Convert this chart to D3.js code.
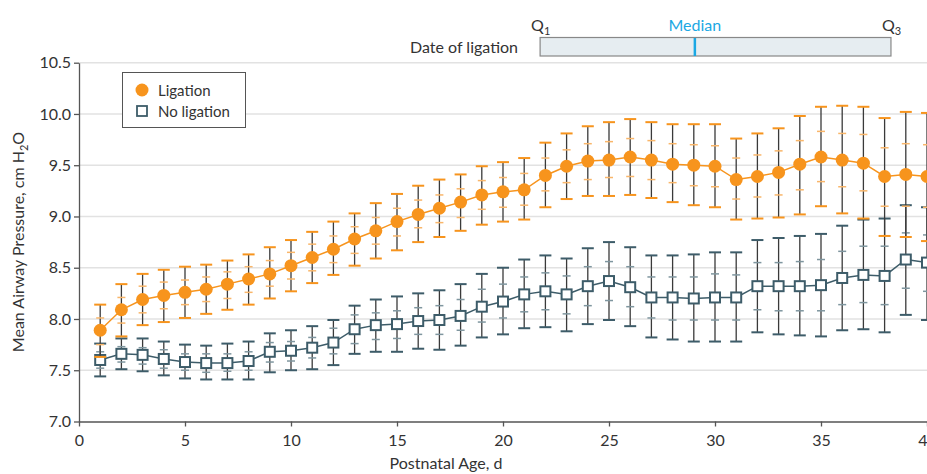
<!DOCTYPE html>
<html>
<head>
<meta charset="utf-8">
<script src="https://cdn.jsdelivr.net/npm/d3@7"></script>
<style>
  body { margin: 0; background: #fff; }
  svg text { font-family: Lato, "Noto Sans", sans-serif; fill: #333; }
</style>
</head>
<body>
<div id="vis"></div>
<script>
// postnatal days
const days = [1,2,3,4,5,6,7,8,9,10,11,12,13,14,15,16,17,18,19,20,
  21,22,23,24,25,26,27,28,29,30,31,32,33,34,35,36,37,38,39,40];

// Ligation: mean, outer bar (hi/lo), inner tick (inHi/inLo)
const ligMean = [7.89,8.09,8.19,8.23,8.26,8.29,8.34,8.39,8.44,8.52,8.60,8.68,8.78,8.86,8.95,9.02,9.08,9.14,9.21,9.24,
  9.26,9.40,9.49,9.54,9.55,9.58,9.55,9.51,9.50,9.49,9.36,9.39,9.43,9.51,9.58,9.55,9.52,9.39,9.41,9.39];
const ligHi = [8.14,8.34,8.44,8.48,8.51,8.53,8.57,8.63,8.70,8.77,8.85,8.95,9.03,9.13,9.22,9.30,9.36,9.41,9.49,9.53,
  9.57,9.72,9.81,9.88,9.92,9.95,9.92,9.90,9.90,9.90,9.76,9.81,9.86,9.98,10.07,10.08,10.07,9.96,10.02,10.01];
const ligLo = [7.63,7.83,7.94,7.97,8.01,8.05,8.09,8.14,8.20,8.27,8.35,8.43,8.52,8.59,8.67,8.75,8.80,8.86,8.92,8.95,
  8.97,9.09,9.17,9.20,9.20,9.21,9.18,9.14,9.11,9.09,8.97,8.98,8.99,9.02,9.10,9.03,8.98,8.81,8.80,8.76];
const ligInHi = [8.01,8.21,8.32,8.36,8.38,8.41,8.46,8.51,8.57,8.65,8.73,8.81,8.90,8.99,9.08,9.16,9.21,9.27,9.35,9.38,
  9.42,9.57,9.65,9.71,9.73,9.76,9.74,9.71,9.70,9.69,9.57,9.60,9.64,9.74,9.83,9.81,9.80,9.67,9.71,9.70];
const ligInLo = [7.75,7.96,8.06,8.10,8.14,8.17,8.20,8.26,8.32,8.39,8.47,8.55,8.64,8.73,8.81,8.89,8.94,8.99,9.07,9.09,
  9.11,9.25,9.33,9.36,9.38,9.39,9.36,9.33,9.30,9.29,9.17,9.19,9.21,9.26,9.34,9.29,9.25,9.10,9.10,9.09];

// No ligation
const nlMean = [7.60,7.66,7.65,7.61,7.58,7.57,7.57,7.59,7.68,7.69,7.72,7.77,7.90,7.94,7.95,7.98,7.99,8.03,8.12,8.17,
  8.24,8.27,8.24,8.32,8.37,8.31,8.21,8.21,8.20,8.21,8.21,8.32,8.32,8.32,8.33,8.40,8.43,8.42,8.58,8.55];
const nlHi = [7.76,7.81,7.81,7.78,7.75,7.74,7.76,7.78,7.86,7.89,7.93,7.99,8.13,8.19,8.22,8.25,8.28,8.34,8.44,8.50,
  8.58,8.62,8.59,8.69,8.75,8.70,8.62,8.62,8.63,8.65,8.65,8.77,8.79,8.81,8.83,8.91,8.97,8.98,9.11,9.09];
const nlLo = [7.44,7.51,7.49,7.45,7.42,7.41,7.41,7.41,7.48,7.50,7.51,7.55,7.66,7.68,7.68,7.71,7.70,7.74,7.82,7.85,
  7.91,7.92,7.88,7.95,7.99,7.93,7.82,7.80,7.78,7.78,7.78,7.87,7.85,7.84,7.83,7.89,7.90,7.87,8.04,7.99];
const nlInHi = [7.68,7.73,7.72,7.70,7.66,7.66,7.66,7.68,7.77,7.78,7.82,7.91,8.04,8.06,8.08,8.11,8.13,8.19,8.29,8.34,
  8.41,8.45,8.42,8.51,8.56,8.51,8.41,8.41,8.41,8.44,8.43,8.55,8.55,8.56,8.58,8.66,8.71,8.71,8.84,8.82];
const nlInLo = [7.52,7.58,7.56,7.52,7.50,7.48,7.49,7.50,7.58,7.59,7.62,7.66,7.76,7.80,7.81,7.85,7.85,7.89,7.97,8.01,
  8.07,8.09,8.05,8.13,8.18,8.12,8.01,7.99,7.99,7.99,7.99,8.09,8.08,8.08,8.08,8.14,8.16,8.14,8.30,8.27];

// date of ligation quartiles (days)
const ligationDate = { q1: 21.75, median: 29.05, q3: 38.3 };

const xTicks = [0, 5, 10, 15, 20, 25, 30, 35, 40];
const yTicks = [7.0, 7.5, 8.0, 8.5, 9.0, 9.5, 10.0, 10.5];

const orange = '#f7941d';
const orangeLight = '#f9b66a';
const teal = '#3d5c69';
const tealLight = '#7f969f';
const blue = '#1ba8e4';

const svg = d3.select('#vis')
.append('svg')
.attr('width', 927)
.attr('height', 474);

const x = d3.scaleLinear().domain([0, 40]).range([79, 927]);
const y = d3.scaleLinear().domain([7, 10.5]).range([421.5, 62.7]);

// grid lines
svg.selectAll('.grid')
.data(yTicks.slice(1))
.enter()
.append('line')
.attr('class', 'grid')
.attr('x1', x(0))
.attr('x2', 927)
.attr('y1', d => y(d))
.attr('y2', d => y(d))
.attr('stroke', '#e2e2e2')
.attr('stroke-width', 1.5);

// axes
const yAxis = svg.append('g')
.attr('transform', `translate(${x(0)},0)`)
.call(d3.axisLeft(y).tickValues(yTicks).tickSize(5).tickSizeOuter(0).tickFormat(d3.format('.1f')));

const xAxis = svg.append('g')
.attr('transform', `translate(0,${y(7)})`)
.call(d3.axisBottom(x).tickValues(xTicks).tickSize(5).tickSizeOuter(0));

[xAxis, yAxis].forEach(a => {
  a.selectAll('path, line').attr('stroke', '#555').attr('stroke-width', 1.3);
  a.selectAll('text').attr('font-size', 16).attr('fill', '#333');
});
xAxis.selectAll('text').attr('dy', '1.0em');

function drawSeries(mean, hi, lo, inHi, inLo, color, inner, isCircle) {
  const g = svg.append('g');
  const rows = days.map((d, i) => ({ day: d, mean: mean[i], hi: hi[i], lo: lo[i], inHi: inHi[i], inLo: inLo[i] }));

  // stems
  g.selectAll('.stem')
  .data(rows)
  .enter()
  .append('line')
  .attr('x1', d => x(d.day))
  .attr('x2', d => x(d.day))
  .attr('y1', d => y(d.lo))
  .attr('y2', d => y(d.hi))
  .attr('stroke', '#3a3a3a')
  .attr('stroke-width', 1.3);

  // outer caps
  ['hi', 'lo'].forEach(k => {
    g.selectAll('.cap-' + k)
    .data(rows)
    .enter()
    .append('line')
    .attr('x1', d => x(d.day) - 6)
    .attr('x2', d => x(d.day) + 6)
    .attr('y1', d => y(d[k]))
    .attr('y2', d => y(d[k]))
    .attr('stroke', color)
    .attr('stroke-width', 2);
  });

  // inner ticks
  ['inHi', 'inLo'].forEach(k => {
    g.selectAll('.tick-' + k)
    .data(rows)
    .enter()
    .append('line')
    .attr('x1', d => x(d.day) - 4)
    .attr('x2', d => x(d.day) + 4)
    .attr('y1', d => y(d[k]))
    .attr('y2', d => y(d[k]))
    .attr('stroke', inner)
    .attr('stroke-width', 1.5);
  });

  g.append('path')
  .datum(rows)
  .attr('fill', 'none')
  .attr('stroke', color)
  .attr('stroke-width', 1.5)
  .attr('d', d3.line().x(d => x(d.day)).y(d => y(d.mean)));

  if (isCircle) {
    g.selectAll('circle')
    .data(rows)
    .enter()
    .append('circle')
    .attr('cx', d => x(d.day))
    .attr('cy', d => y(d.mean))
    .attr('r', 6.5)
    .attr('fill', color);
  } else {
    g.selectAll('rect')
    .data(rows)
    .enter()
    .append('rect')
    .attr('x', d => x(d.day) - 5)
    .attr('y', d => y(d.mean) - 5)
    .attr('width', 10)
    .attr('height', 10)
    .attr('fill', '#fff')
    .attr('stroke', color)
    .attr('stroke-width', 2);
  }
}

drawSeries(nlMean, nlHi, nlLo, nlInHi, nlInLo, teal, tealLight, false);
drawSeries(ligMean, ligHi, ligLo, ligInHi, ligInLo, orange, orangeLight, true);

// legend
const legend = svg.append('g');
legend.append('rect')
.attr('x', 122.5).attr('y', 72.5)
.attr('width', 123).attr('height', 55)
.attr('fill', '#fff')
.attr('stroke', '#555');
legend.append('circle')
.attr('cx', 142).attr('cy', 90).attr('r', 6.5)
.attr('fill', orange);
legend.append('rect')
.attr('x', 137).attr('y', 106).attr('width', 10).attr('height', 10)
.attr('fill', '#fff').attr('stroke', teal).attr('stroke-width', 1.8);
legend.append('text')
.attr('x', 158).attr('y', 95.5)
.attr('font-size', 15)
.text('Ligation');
legend.append('text')
.attr('x', 158).attr('y', 116.5)
.attr('font-size', 15)
.text('No ligation');

// date of ligation bar
svg.append('text')
.attr('x', 518).attr('y', 52.5)
.attr('text-anchor', 'end')
.attr('font-size', 16)
.text('Date of ligation');

svg.append('rect')
.attr('x', x(ligationDate.q1)).attr('y', 37.5)
.attr('width', x(ligationDate.q3) - x(ligationDate.q1))
.attr('height', 18.5)
.attr('fill', '#e6edf1')
.attr('stroke', '#888')
.attr('stroke-width', 1.2);

svg.append('line')
.attr('x1', x(ligationDate.median)).attr('x2', x(ligationDate.median))
.attr('y1', 38).attr('y2', 56)
.attr('stroke', blue)
.attr('stroke-width', 2.5);

svg.append('text')
.attr('x', x(ligationDate.median)).attr('y', 31)
.attr('text-anchor', 'middle')
.attr('font-size', 16)
.attr('fill', blue)
.style('fill', blue)
.text('Median');

[['1', ligationDate.q1], ['3', ligationDate.q3]].forEach(([sub, v]) => {
  const t = svg.append('text')
  .attr('x', x(v) - 9).attr('y', 31)
  .attr('font-size', 16);
  t.append('tspan').text('Q');
  t.append('tspan').attr('font-size', 11).attr('dy', 4).text(sub);
});

// axis titles
svg.append('text')
.attr('x', 446).attr('y', 469)
.attr('text-anchor', 'middle')
.attr('font-size', 16)
.text('Postnatal Age, d');

const yt = svg.append('text')
.attr('transform', 'translate(24,242) rotate(-90)')
.attr('text-anchor', 'middle')
.attr('font-size', 16);
yt.append('tspan').text('Mean Airway Pressure, cm H');
yt.append('tspan').attr('font-size', 11).attr('dy', 4).text('2');
yt.append('tspan').attr('dy', -4).text('O');
</script>
</body>
</html>
